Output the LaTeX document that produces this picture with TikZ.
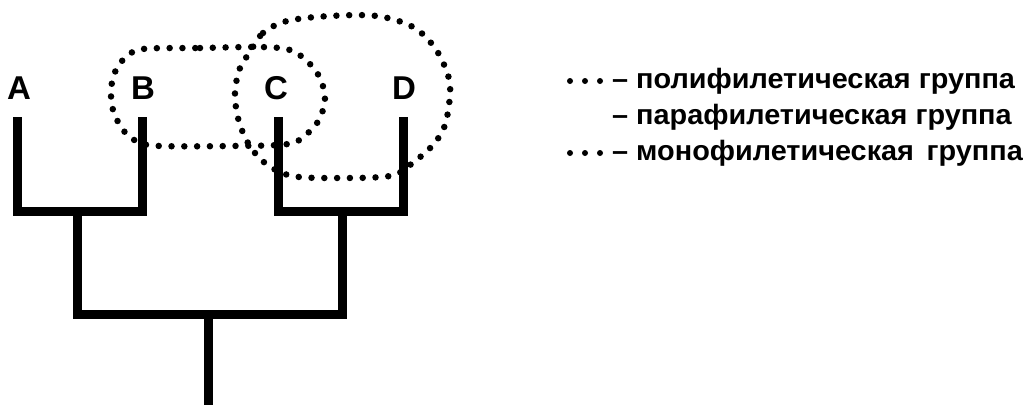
\documentclass[tikz,border=0pt]{standalone}
\usepackage{fontspec}
\setmainfont{Liberation Sans}
\newfontfamily\legendfont[FakeStretch=1.03]{Liberation Sans}
\begin{document}
\begin{tikzpicture}[x=1pt,y=-1pt,
  branch/.style={line width=9pt, line join=miter, line cap=butt},
  taxon/.style={font=\bfseries\fontsize{33}{33}\selectfont, inner sep=0pt},
  dotline/.style={line width=6.5pt, line cap=round, dash pattern=on 0pt off 12.8pt},
  legtext/.style={font=\legendfont\bfseries\fontsize{28}{28}\selectfont, anchor=base west, inner sep=0pt},
  legdot/.style={circle, fill=black, inner sep=0pt, minimum size=6pt}]
\useasboundingbox (0,0) rectangle (1028,405);

% taxa labels
\node[taxon] (lA) at (19,88) {A};
\node[taxon] (lB) at (143,88) {B};
\node[taxon] (lC) at (276,88) {C};
\node[taxon] (lD) at (404,88) {D};

% tips, internal nodes and root
\coordinate (tA) at (17,117);
\coordinate (tB) at (142,117);
\coordinate (tC) at (278,117);
\coordinate (tD) at (403,117);
\coordinate (nAB) at (77,211);
\coordinate (nCD) at (342,211);
\coordinate (nR) at (208,314);
\coordinate (root) at (208,405);

% cladogram
\draw[branch] (tA) -- (tA |- nAB) -- (tB |- nAB) -- (tB);
\draw[branch] (tC) -- (tC |- nCD) -- (tD |- nCD) -- (tD);
\draw[branch] (nAB) -- (nAB |- nR) -- (nCD |- nR) -- (nCD);
\draw[branch] (nR) -- (root);

% polyphyletic group: B + C
\draw[dotline] plot[smooth cycle, tension=0.55] coordinates {
  (143,49) (200,48) (260,47) (290,50) (308,62) (320,78) (325,98)
  (320,118) (308,133) (288,144) (230,146) (160,146) (138,142)
  (123,130) (113,110) (111,90) (115,72) (125,58)};

% monophyletic group: C + D
\draw[dotline] plot[smooth cycle, tension=0.55] coordinates {
  (250,52) (263,33) (287,21) (330,16) (377,16) (413,27) (435,48)
  (448,75) (450,95) (445,125) (433,145) (410,165) (390,176)
  (340,178) (292,176) (265,163) (248,143) (238,118) (235,92) (240,68)};

% legend
\foreach \r/\y in {1/81, 3/153} {
  \node[legdot] (d\r a) at (570,\y) {};
  \node[legdot] (d\r b) at (585,\y) {};
  \node[legdot] (d\r c) at (600,\y) {};
}
\node[legtext] (leg1) at (612,88) {– полифилетическая группа};
\node[legtext] (leg2) at (612,124) {– парафилетическая группа};
\node[legtext] (leg3) at (612,160) {– монофилетическая\hspace{0.45em}группа};
\end{tikzpicture}
\end{document}
